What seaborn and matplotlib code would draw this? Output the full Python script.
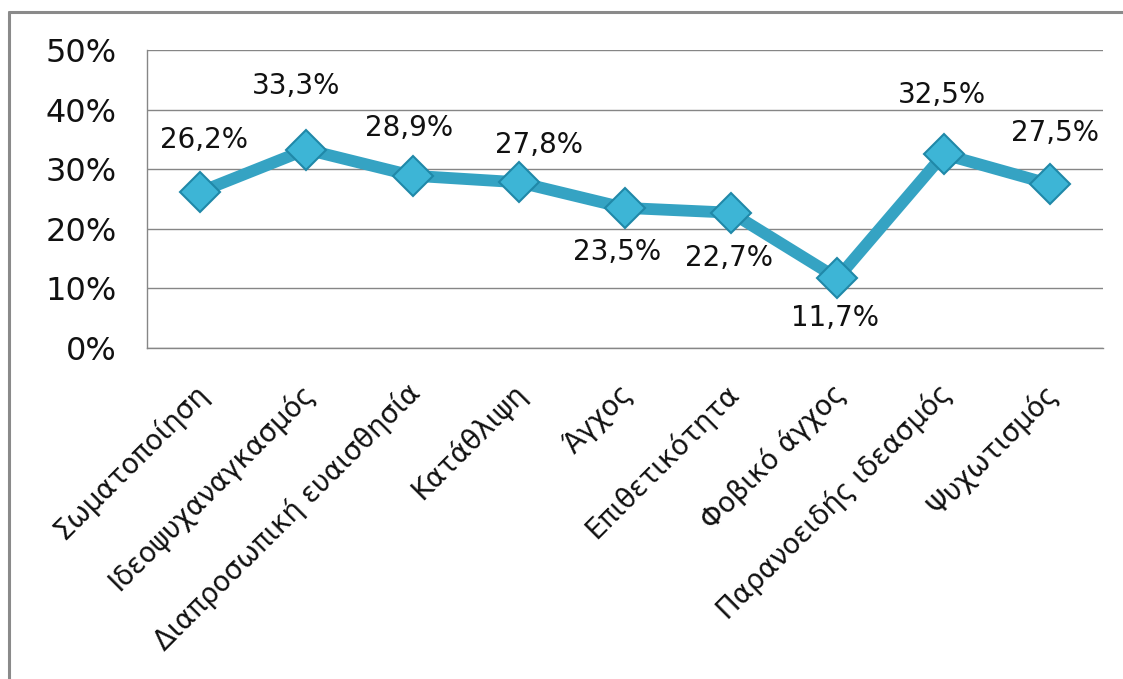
import matplotlib
matplotlib.use("Agg")
import matplotlib.pyplot as plt
from matplotlib.lines import Line2D
from matplotlib.transforms import ScaledTranslation
from matplotlib.ticker import FixedLocator, PercentFormatter
import seaborn as sns
import pandas as pd

# data
categories = [
    "Σωματοποίηση",
    "Ιδεοψυχαναγκασμός",
    "Διαπροσωπική ευαισθησία",
    "Κατάθλιψη",
    "Άγχος",
    "Επιθετικότητα",
    "Φοβικό άγχος",
    "Παρανοειδής ιδεασμός",
    "Ψυχωτισμός",
]
values = [26.2, 33.3, 28.9, 27.8, 23.5, 22.7, 11.7, 32.5, 27.5]
value_labels = ["26,2%", "33,3%", "28,9%", "27,8%", "23,5%", "22,7%", "11,7%", "32,5%", "27,5%"]
y_ticks = [0, 10, 20, 30, 40, 50]

# where each value label sits relative to its point (pixels)
label_offsets = [(4, 52), (-10, 64), (-3, 48), (20, 37), (-8, -44),
                 (-2, -45), (-2, -40), (-2, 59), (5, 51)]

sns.set_style("white")
plt.rcParams["font.family"] = ["DejaVu Sans"]

df = pd.DataFrame({"category": categories, "value": values})

fig = plt.figure(figsize=(11.23, 6.79), dpi=100)
ax = fig.add_axes([0.1309, 0.4875, 0.8513, 0.4389])

line_color = "#35a3c3"
sns.lineplot(data=df, x="category", y="value", sort=False, ax=ax,
             color=line_color, linewidth=8.5, marker="D", markersize=20,
             markerfacecolor="#3db5d6", markeredgecolor="#2088a8",
             markeredgewidth=1.5, zorder=3)

ax.set_xlim(-0.5, len(categories) - 0.5)
ax.set_ylim(0, 50)
ax.set_yticks(y_ticks)
ax.yaxis.set_major_formatter(PercentFormatter(decimals=0))
ax.grid(axis="y", color="#868686", linewidth=1)
ax.set_axisbelow(True)

# category ticks between the points, Excel style
ax.xaxis.set_minor_locator(FixedLocator([i - 0.5 for i in range(len(categories) + 1)]))
ax.tick_params(axis="x", which="major", length=0, pad=22)
ax.tick_params(axis="x", which="minor", length=6, color="#868686", width=1)
ax.tick_params(axis="y", length=7, color="#868686", width=1, labelsize=23, pad=15,
               labelcolor="#111111")
ax.set_xticks(range(len(categories)))
ax.set_xticklabels(categories, rotation=45, ha="right", rotation_mode="anchor",
                   fontsize=20, color="#111111")
shift = ScaledTranslation(-7 / 100, 0, fig.dpi_scale_trans)
for lbl in ax.get_xticklabels():
    lbl.set_transform(lbl.get_transform() + shift)

for side in ["top", "right"]:
    ax.spines[side].set_visible(False)
for side in ["left", "bottom"]:
    ax.spines[side].set_color("#868686")
    ax.spines[side].set_linewidth(1)

ax.set_xlabel("")
ax.set_ylabel("")

for i, (v, lab) in enumerate(zip(values, value_labels)):
    dx, dy = label_offsets[i]
    ax.annotate(lab, (i, v), xytext=(dx, dy), textcoords="offset pixels",
                ha="center", va="center", fontsize=20, color="#111111")

# chart frame: only the top and left edges show in the screenshot
frame_x = 9 / 1123
frame_y = 1 - 12 / 679
fig.lines.append(Line2D([frame_x, 1], [frame_y, frame_y], transform=fig.transFigure,
                        color="#8a8a8a", linewidth=2.2))
fig.lines.append(Line2D([frame_x, frame_x], [0, frame_y], transform=fig.transFigure,
                        color="#8a8a8a", linewidth=2.2))

fig.savefig("out.png", dpi=100)
